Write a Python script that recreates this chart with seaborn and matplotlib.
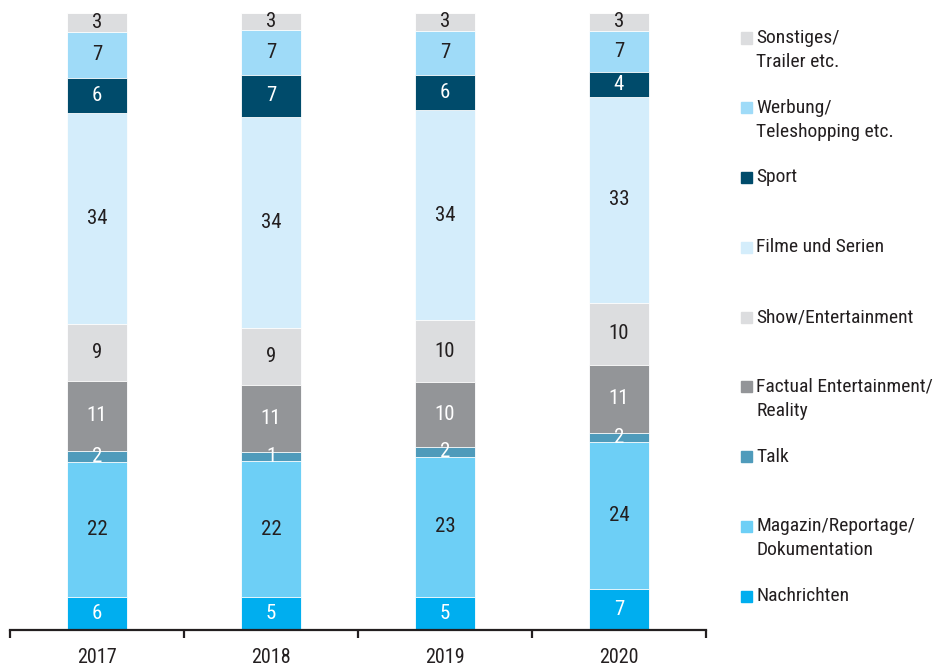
import numpy as np
import pandas as pd
import matplotlib
matplotlib.use("Agg")
import matplotlib.pyplot as plt
import seaborn as sns

# ---------------------------------------------------------
# Data: programme shares in percent
# ---------------------------------------------------------
years = ["2017", "2018", "2019", "2020"]

# categories from bottom of the stack to the top
categories = [
    "Nachrichten",
    "Magazin/Reportage/\nDokumentation",
    "Talk",
    "Factual Entertainment/\nReality",
    "Show/Entertainment",
    "Filme und Serien",
    "Sport",
    "Werbung/\nTeleshopping etc.",
    "Sonstiges/\nTrailer etc.",
]

nachrichten = [5.4, 5.3, 5.3, 6.6]
magazin = [21.9, 22.1, 22.8, 23.8]
talk = [1.7, 1.5, 1.5, 1.6]
factual = [11.4, 10.8, 10.6, 11.0]
show = [9.2, 9.3, 10.0, 10.0]
filme = [34.2, 34.1, 34.1, 33.4]
sport = [5.7, 6.9, 5.7, 4.1]
werbung = [7.4, 7.2, 7.1, 6.6]
sonstiges = [3.1, 2.8, 2.9, 2.9]

# printed labels (rounded values as shown in the chart)
labels_nachrichten = [6, 5, 5, 7]
labels_magazin = [22, 22, 23, 24]
labels_talk = [2, 1, 2, 2]
labels_factual = [11, 11, 10, 11]
labels_show = [9, 9, 10, 10]
labels_filme = [34, 34, 34, 33]
labels_sport = [6, 7, 6, 4]
labels_werbung = [7, 7, 7, 7]
labels_sonstiges = [3, 3, 3, 3]

values = [nachrichten, magazin, talk, factual, show, filme, sport, werbung, sonstiges]
labels = [labels_nachrichten, labels_magazin, labels_talk, labels_factual, labels_show,
          labels_filme, labels_sport, labels_werbung, labels_sonstiges]

colors = ["#00aeef", "#6dcff6", "#4f9bbb", "#939598", "#dcdddf",
          "#d4edfb", "#004b6b", "#9fdbf8", "#dcdddf"]
text_colors = ["white", "#231f20", "white", "white", "#231f20",
               "#231f20", "white", "#231f20", "#231f20"]

# ---------------------------------------------------------
# Plot
# ---------------------------------------------------------
sns.set_theme(style="white")
plt.rcParams["font.family"] = ["Roboto Condensed", "Liberation Sans Narrow",
                               "Liberation Sans", "DejaVu Sans"]

fig = plt.figure(figsize=(9.35, 6.66), dpi=100)
ax = fig.add_axes([10 / 935, 36 / 666, 696 / 935, 617 / 666])

df = pd.DataFrame(np.array(values).T, columns=categories)
df["Jahr"] = years
cum = df[categories].cumsum(axis=1)

# stacked bars: draw the cumulative totals from the top layer down
for i in range(len(categories) - 1, -1, -1):
    sns.barplot(x=df["Jahr"], y=cum[categories[i]], color=colors[i], width=0.35,
                edgecolor="white", linewidth=0.6, saturation=1, ax=ax)

# value labels in the middle of each segment
for i, cat in enumerate(categories):
    for j in range(len(years)):
        top = cum[cat].iloc[j]
        mid = top - df[cat].iloc[j] / 2
        ax.text(j, mid, str(labels[i][j]), ha="center", va="center",
                fontsize=15, color=text_colors[i])

ax.set_xlim(-0.5, 3.5)
ax.set_ylim(0, 100)
ax.set_xlabel("")
ax.set_ylabel("")
ax.set_yticks([])
sns.despine(ax=ax, left=True, top=True, right=True)
ax.spines["bottom"].set_linewidth(1.6)
ax.spines["bottom"].set_color("#231f20")

ax.set_xticks(np.arange(-0.5, 4.0, 1.0), minor=True)
ax.tick_params(axis="x", which="minor", bottom=True, length=6, width=1.6,
               color="#231f20", direction="out")
ax.tick_params(axis="x", which="major", bottom=False, length=0, pad=13,
               labelsize=14.5, labelcolor="#231f20")

# legend, evenly spaced entries to the right of the bars
x_box = 741 / 935
x_text = 756 / 935
for k, i in enumerate(range(len(categories) - 1, -1, -1)):
    y_px = 38 + k * 69.75
    fig.patches.append(plt.Rectangle((x_box, 1 - (y_px + 5.5) / 666), 11 / 935, 11 / 666,
                                     transform=fig.transFigure, color=colors[i]))
    for n, line in enumerate(categories[i].split("\n")):
        fig.text(x_text, 1 - (y_px + n * 24) / 666, line, ha="left", va="center",
                 fontsize=14, color="#231f20")

fig.savefig("out.png", dpi=100)
plt.close(fig)
